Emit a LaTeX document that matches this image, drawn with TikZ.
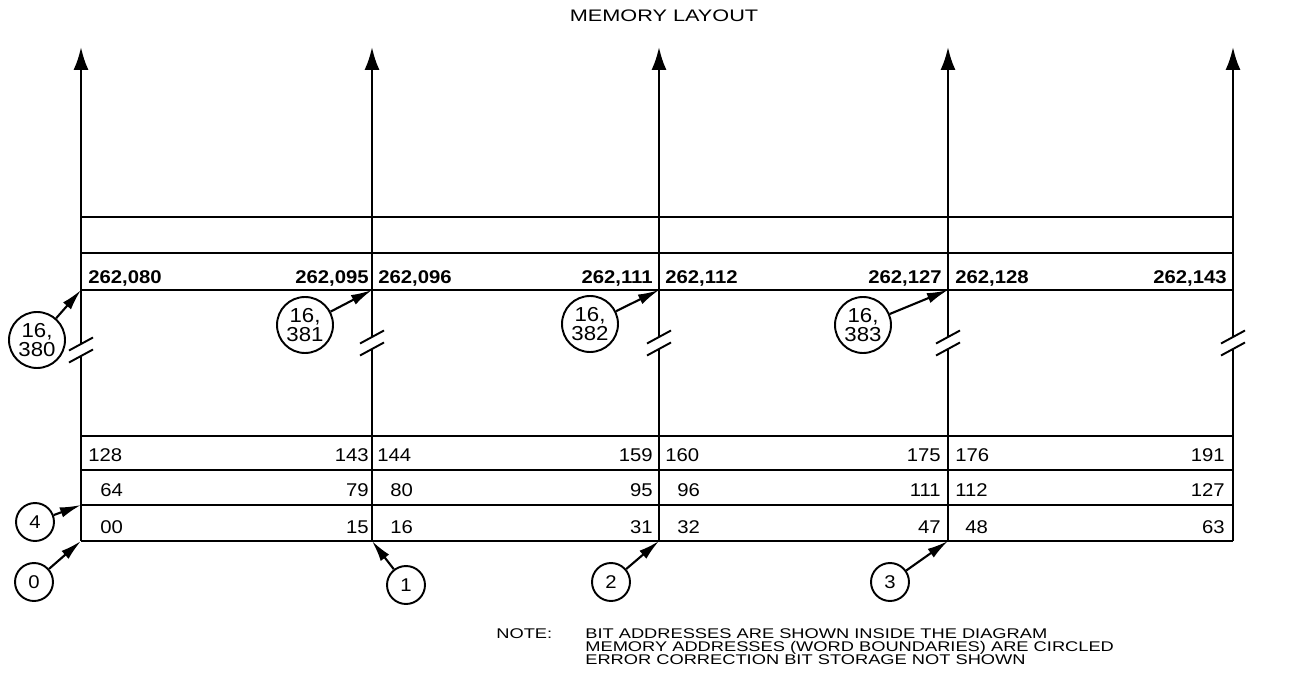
\documentclass[tikz,border=0pt]{standalone}
\usepackage{fontspec}
\setmainfont[FakeStretch=1.1]{Liberation Sans}
\newfontfamily\notefont[FakeStretch=1.3]{Liberation Sans}
\usetikzlibrary{arrows.meta}

\tikzset{
  colline/.style={line width=1.4pt},
  rowline/.style={line width=1.1pt},
  bit/.style={inner sep=0pt,font=\fontsize{10.5}{12}\selectfont},
  bitl/.style={bit,anchor=base west},
  bitr/.style={bit,anchor=base east},
  boldbit/.style={font=\fontsize{10.5}{12}\selectfont\bfseries},
  wordaddr/.style={shape=circle,draw,line width=1.1pt,inner sep=0pt,minimum size=0.76cm,font=\fontsize{10.5}{12}\selectfont},
  bigaddr/.style={wordaddr,minimum size=1.12cm,align=center,font=\fontsize{11.5}{11}\selectfont},
  pointer/.style={-{Latex[length=12pt,width=6pt]},line width=1.2pt},
  notetext/.style={inner sep=0pt,anchor=base west,font=\notefont\fontsize{8}{9}\selectfont},
}

\begin{document}
\begin{tikzpicture}[x=0.02cm,y=-0.02cm]
\useasboundingbox (0,0) rectangle (1316,696);

% title
\node (title) at (664,16) {\notefont\fontsize{9.5}{11}\selectfont MEMORY LAYOUT};

% word boundaries with breaks
\foreach \x/\b [count=\i from 0] in {81/350,372/343,659/343,948/343,1233/343} {
  \coordinate (top\i) at (\x,47);
  \coordinate (hi\i) at (\x,290);
  \coordinate (mid\i) at (\x,505);
  \coordinate (lo\i) at (\x,541);
  \draw[colline,-{Latex[length=13pt,width=8.5pt]}] (\x,\b-6) -- (top\i);
  \draw[colline] (\x,\b+6) -- (lo\i);
  \draw[rowline] (\x-12,\b+0.5) -- (\x+12,\b-12.5);
  \draw[rowline] (\x-12,\b+12.5) -- (\x+12,\b-0.5);
}

% rows
\foreach \y in {217,253,290,436,470,505,541}
  \draw[rowline] (81,\y) -- (1233,\y);

% bit addresses
\foreach \xl/\tl/\xr/\tr [count=\i] in {88/{262,080}/369/{262,095},378/{262,096}/653/{262,111},665/{262,112}/942/{262,127},955/{262,128}/1227/{262,143}} {
  \node[bitl,boldbit] (hl\i) at (\xl,283) {\tl};
  \node[bitr,boldbit] (hr\i) at (\xr,283) {\tr};
}
\foreach \xl/\tl/\xr/\tr [count=\i] in {88/128/369/143,377/144/653/159,665/160/941/175,955/176/1225/191} {
  \node[bitl] (al\i) at (\xl,461) {\tl};
  \node[bitr] (ar\i) at (\xr,461) {\tr};
}
\foreach \xl/\tl/\xr/\tr [count=\i] in {100/64/369/79,390/80/653/95,677/96/941/111,955/112/1225/127} {
  \node[bitl] (bl\i) at (\xl,496) {\tl};
  \node[bitr] (br\i) at (\xr,496) {\tr};
}
\foreach \xl/\tl/\xr/\tr [count=\i] in {100/00/369/15,390/16/653/31,677/32/941/47,965/48/1225/63} {
  \node[bitl] (cl\i) at (\xl,533) {\tl};
  \node[bitr] (cr\i) at (\xr,533) {\tr};
}

% memory addresses
\node[bigaddr] (w16380) at (37,340) {16,\\380};
\node[bigaddr] (w16381) at (305,325) {16,\\381};
\node[bigaddr] (w16382) at (590,324) {16,\\382};
\node[bigaddr] (w16383) at (863,325) {16,\\383};
\node[wordaddr] (w4) at (35,522) {4};
\node[wordaddr] (w0) at (34,582) {0};
\node[wordaddr] (w1) at (406,585) {1};
\node[wordaddr] (w2) at (611,582) {2};
\node[wordaddr] (w3) at (890,582) {3};

\draw[pointer] (w16380) -- (hi0);
\draw[pointer] (w16381) -- (hi1);
\draw[pointer] (w16382) -- (hi2);
\draw[pointer] (w16383) -- (hi3);
\draw[pointer] (w4) -- (mid0);
\draw[pointer] (w0) -- (lo0);
\draw[pointer] (w1) -- (lo1);
\draw[pointer] (w2) -- (lo2);
\draw[pointer] (w3) -- (lo3);

% note
\node[notetext] (note) at (496,638) {NOTE:};
\node[notetext] (note1) at (585,638) {BIT ADDRESSES ARE SHOWN INSIDE THE DIAGRAM};
\node[notetext] (note2) at (585,651) {MEMORY ADDRESSES (WORD BOUNDARIES) ARE CIRCLED};
\node[notetext] (note3) at (585,664) {ERROR CORRECTION BIT STORAGE NOT SHOWN};

\end{tikzpicture}
\end{document}
